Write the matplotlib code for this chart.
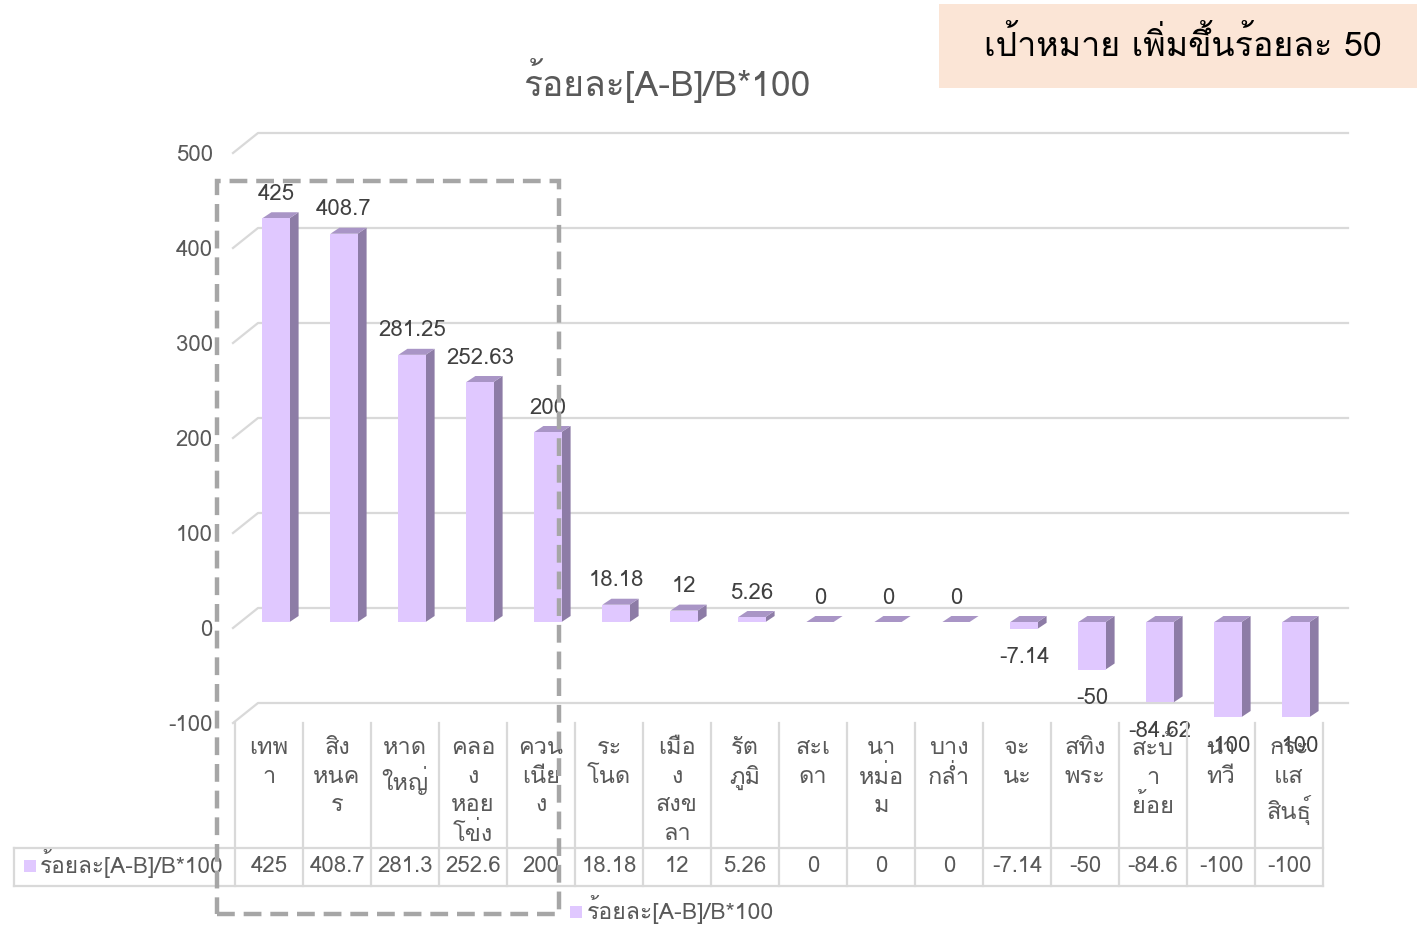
import matplotlib
matplotlib.use("Agg")
import matplotlib.pyplot as plt
from matplotlib import font_manager, ft2font
from matplotlib.patches import Polygon, Rectangle
from matplotlib.lines import Line2D
import matplotlib.transforms as mtransforms

# ---------------- data ----------------
categories = ["เทพา", "สิงหนคร", "หาดใหญ่", "คลองหอยโข่ง", "ควนเนียง", "ระโนด",
              "เมืองสงขลา", "รัตภูมิ", "สะเดา", "นาหม่อม", "บางกล่ำ", "จะนะ",
              "สทิงพระ", "สะบ้าย้อย", "นาทวี", "กระแสสินธุ์"]
category_labels = ["เทพ\nา", "สิง\nหนค\nร", "หาด\nใหญ่", "คลอ\nง\nหอย\nโข่ง", "ควน\nเนีย\nง",
                   "ระ\nโนด", "เมือ\nง\nสงข\nลา", "รัต\nภูมิ", "สะเ\nดา", "นา\nหม่อ\nม",
                   "บาง\nกล่ำ", "จะ\nนะ", "สทิง\nพระ", "สะบ้\nา\nย้อย", "นา\nทวี", "กระ\nแส\nสินธุ์"]
values = [425, 408.7, 281.25, 252.63, 200, 18.18, 12, 5.26, 0, 0, 0,
          -7.14, -50, -84.62, -100, -100]
table_values = ["425", "408.7", "281.3", "252.6", "200", "18.18", "12", "5.26", "0", "0",
                "0", "-7.14", "-50", "-84.6", "-100", "-100"]
y_ticks = [-100, 0, 100, 200, 300, 400, 500]
series_name = "ร้อยละ[A-B]/B*100"
title_text = "ร้อยละ[A-B]/B*100"
target_text = "เป้าหมาย เพิ่มขึ้นร้อยละ 50"

# ---------------- fonts ----------------
def find_thai_font():
    for f in font_manager.fontManager.ttflist:
        try:
            ft = ft2font.FT2Font(f.fname)
            if 0x0E01 in ft.get_charmap():
                return f.name
        except Exception:
            pass
    return None

thai = find_thai_font()
fams = ([thai] if thai else []) + ["DejaVu Sans"]
plt.rcParams["font.family"] = fams
plt.rcParams["axes.unicode_minus"] = False

GRAY_TXT = "#595959"
LBL_TXT = "#404040"
GRID = "#D9D9D9"
FRONT = "#E0C8FF"
SIDE = "#8D7CA6"
TOP = "#A995C6"
FS = 16

W, H = 1417, 925
fig = plt.figure(figsize=(W / 100, H / 100), dpi=100)

def fx(px):
    return px / W

def fy(py):
    return 1 - py / H

# axes = front plane of the 3D chart
left_px, right_px, top_px, bot_px = 235, 1323, 153, 723
ax = fig.add_axes([fx(left_px), fy(bot_px), fx(right_px) - fx(left_px), (bot_px - top_px) / H])
n = len(values)
ax.set_xlim(-0.5, n - 0.5)
ax.set_ylim(y_ticks[0], y_ticks[-1])
for s in ax.spines.values():
    s.set_visible(False)
ax.patch.set_visible(False)
ax.set_xticks([])
ax.set_yticks(y_ticks)
ax.tick_params(axis="y", length=0, pad=16, labelsize=FS, labelcolor=GRAY_TXT)

ux = (right_px - left_px) / n                     # px per x unit
uy = (bot_px - top_px) / (y_ticks[-1] - y_ticks[0])  # px per y unit

def dx(px):
    return px / ux

def dy(px):
    return px / uy

# back wall gridlines with left-side diagonals
back_x, back_y = 23, 20
for t in y_ticks:
    ax.add_line(Line2D([-0.5 - dx(2), -0.5 + dx(back_x), n - 0.5 + dx(back_x + 2)],
                       [t, t + dy(back_y), t + dy(back_y)], color=GRID, lw=1.6,
                       clip_on=False, zorder=1))

# bars (3D columns)
bar_off_x, bar_off_y = 7, 6
depth_x, depth_y = 9, 6
half = 0.2
for i, v in enumerate(values):
    cx = i + dx(bar_off_x)
    lo = min(v, 0) + dy(bar_off_y)
    hi = max(v, 0) + dy(bar_off_y)
    x0, x1 = cx - half, cx + half
    ddx, ddy = dx(depth_x), dy(depth_y)
    ax.add_patch(Polygon([(x1, lo), (x1 + ddx, lo + ddy), (x1 + ddx, hi + ddy), (x1, hi)],
                         closed=True, fc=SIDE, ec="none", clip_on=False, zorder=3))
    ax.add_patch(Polygon([(x0, hi), (x1, hi), (x1 + ddx, hi + ddy), (x0 + ddx, hi + ddy)],
                         closed=True, fc=TOP, ec="none", clip_on=False, zorder=3))
    if hi - lo > 0:
        ax.add_patch(Rectangle((x0, lo), x1 - x0, hi - lo, fc=FRONT, ec="none",
                               clip_on=False, zorder=4))
    # data label
    if v >= 0:
        ax.annotate(f"{v:g}", (cx, hi), xytext=(0, 24 * 0.72), textcoords="offset points",
                    ha="center", va="center", fontsize=FS, color=LBL_TXT, zorder=6,
                    annotation_clip=False)
    else:
        ax.annotate(f"{v:g}", (cx, lo), xytext=(0, -29 * 0.72), textcoords="offset points",
                    ha="center", va="center", fontsize=FS, color=LBL_TXT, zorder=6,
                    annotation_clip=False)

# ---------------- data table ----------------
blend = mtransforms.blended_transform_factory(ax.transData, fig.transFigure)
hdr_top, hdr_bot, row_bot = 723, 848, 886
tbl_left = 14
for k in range(n + 1):
    xb = k - 0.5
    fig.add_artist(Line2D([xb, xb], [fy(hdr_top), fy(row_bot)], transform=blend,
                          color=GRID, lw=1.6))
fig.add_artist(Line2D([fx(tbl_left), fx(tbl_left)], [fy(hdr_bot), fy(row_bot)], color=GRID, lw=1.6))
for yy in (hdr_bot, row_bot):
    fig.add_artist(Line2D([fx(tbl_left), fx(right_px)], [fy(yy), fy(yy)], color=GRID, lw=1.6))

for i, lab in enumerate(category_labels):
    fig.text(i, fy(736), lab, transform=blend, ha="center", va="top", fontsize=17,
             color=GRAY_TXT, linespacing=1.31, zorder=5)
for i, tv in enumerate(table_values):
    fig.text(i, fy(866), tv, transform=blend, ha="center", va="center", fontsize=FS,
             color=GRAY_TXT)

# legend key inside table
fig.add_artist(Rectangle((fx(24), fy(872)), 12 / W, 12 / H, fc=FRONT, ec="none"))
fig.text(fx(40), fy(873), series_name, ha="left", va="baseline", fontsize=16.3, color=GRAY_TXT)

# bottom legend
fig.add_artist(Rectangle((fx(570), fy(918)), 12 / W, 12 / H, fc=FRONT, ec="none"))
fig.text(fx(587), fy(919), series_name, ha="left", va="baseline", fontsize=16.6, color=GRAY_TXT)

# title
fig.text(fx(667), fy(96), title_text, ha="center", va="baseline", fontsize=25.5, color=GRAY_TXT)

# target box
fig.add_artist(Rectangle((fx(939), fy(88)), (1417 - 939) / W, (88 - 4) / H, fc="#FBE5D6", ec="none"))
fig.text(fx(1183), fy(56), target_text, ha="center", va="baseline", fontsize=24.5, color="black")

# dashed highlight rectangle
fig.add_artist(Rectangle((fx(217), fy(914)), (559 - 217) / W, (914 - 181) / H, fill=False,
                         ec="#A6A6A6", lw=3.2, ls=(0, (4, 2)), zorder=10))

fig.savefig("out.png", dpi=100)
